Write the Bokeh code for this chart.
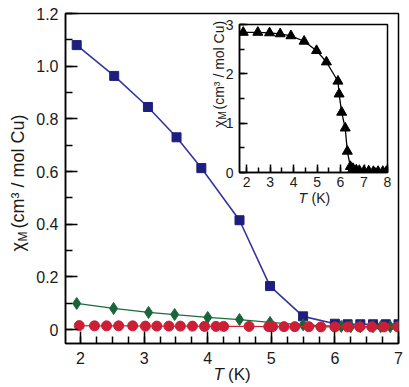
import numpy as np
from bokeh.plotting import figure
from bokeh.models import FixedTicker, CustomJSTickFormatter, Label, Range1d
from bokeh.layouts import column
from bokeh.embed import file_html
from bokeh.resources import INLINE

# ---------------- data ----------------
blue_T = [1.94, 2.53, 3.06, 3.51, 3.90, 4.50, 4.98, 5.50, 6.00, 6.20, 6.40, 6.60, 6.80, 7.00]
blue_chi = [1.080, 0.963, 0.845, 0.730, 0.613, 0.415, 0.165, 0.050, 0.022, 0.020, 0.020, 0.020, 0.020, 0.020]

green_T = [1.94, 2.52, 3.07, 3.48, 4.00, 4.50, 4.98, 5.50, 6.10, 6.25, 6.40, 6.60, 6.72, 6.87, 7.00]
green_chi = [0.099, 0.080, 0.065, 0.057, 0.046, 0.038, 0.027, 0.018, 0.012, 0.011, 0.011, 0.011, 0.011, 0.011, 0.011]

red_T = [1.98, 2.22, 2.41, 2.60, 2.82, 3.02, 3.20, 3.39, 3.57, 3.76, 3.95, 4.13, 4.25,
         4.65, 4.96, 5.02, 5.20, 5.37, 5.59, 5.78, 6.00, 6.20, 6.39, 6.58, 6.77, 6.99]
red_chi = [0.015, 0.014, 0.014, 0.014, 0.014, 0.013, 0.013, 0.013, 0.013, 0.013, 0.012, 0.012, 0.012,
           0.012, 0.011, 0.011, 0.011, 0.011, 0.011, 0.010, 0.010, 0.010, 0.010, 0.010, 0.010, 0.010]

inset_T = [1.86, 2.48, 2.98, 3.43, 3.89, 4.45, 4.98, 5.40, 5.89, 5.94, 6.05, 6.20, 6.29, 6.42,
           6.53, 6.67, 6.80, 7.00, 7.20, 7.40, 7.60, 7.80, 7.95]
inset_chi = [2.84, 2.84, 2.83, 2.81, 2.77, 2.66, 2.47, 2.24, 1.85, 1.59, 1.22, 0.90, 0.43, 0.12,
             0.08, 0.05, 0.04, 0.03, 0.03, 0.02, 0.02, 0.02, 0.02]

main_x_ticks = [2, 3, 4, 5, 6, 7]
main_y_ticks = [0, 0.2, 0.4, 0.6, 0.8, 1.0, 1.2]
inset_x_ticks = [2, 3, 4, 5, 6, 7, 8]
inset_y_ticks = [0, 1, 2, 3]

FONT = "Liberation Sans"
TXT = "#1a1a1a"
W, H = 405, 385

# ---------------- main plot ----------------
p = figure(width=W, height=H, output_backend="svg", toolbar_location=None,
           x_range=Range1d(1.764, 7.0), y_range=Range1d(-0.053, 1.2),
           min_border_left=65, min_border_right=W - 398, min_border_top=13, min_border_bottom=H - 343)
p.frame_align = False
p.grid.visible = False
p.outline_line_color = "black"
p.outline_line_width = 1.5
p.background_fill_color = "white"
p.border_fill_color = "white"

p.xaxis.ticker = FixedTicker(ticks=main_x_ticks, minor_ticks=list(np.arange(1.75, 7.01, 0.25)))
p.yaxis.ticker = FixedTicker(ticks=main_y_ticks, minor_ticks=list(np.arange(-0.1, 1.21, 0.1)))
p.yaxis.formatter = CustomJSTickFormatter(code="return Math.abs(tick) < 1e-9 ? '0' : tick.toFixed(1);")
p.xaxis.formatter = CustomJSTickFormatter(code="return tick.toFixed(0);")
for ax in (p.xaxis[0], p.yaxis[0]):
    ax.axis_line_color = "black"
    ax.axis_line_width = 1.5
    ax.major_tick_in = 12
    ax.major_tick_out = 0
    ax.minor_tick_in = 7
    ax.minor_tick_out = 0
    ax.major_tick_line_color = "black"
    ax.minor_tick_line_color = "black"
    ax.major_tick_line_width = 1.5
    ax.minor_tick_line_width = 1.5
    ax.major_label_text_font = FONT
    ax.major_label_text_font_size = "16px"
    ax.major_label_text_color = TXT
p.xaxis.major_label_standoff = 8
p.yaxis.major_label_standoff = 7

p.line(blue_T, blue_chi, line_color="#35359e", line_width=1.6)
p.scatter(blue_T, blue_chi, marker="square", size=9, fill_color="#1e1e7e", line_color="#1e1e7e")
p.line(green_T, green_chi, line_color="#1b6e3a", line_width=1.3)
p.scatter(green_T, green_chi, marker="diamond", size=12, fill_color="#17663a", line_color="#17663a")
p.line(red_T, red_chi, line_color="#cc2233", line_width=1.2)
p.scatter(red_T, red_chi, marker="circle", size=10, fill_color="#cc1f35", line_color="#cc1f35")

# ---------------- inset (full-size overlay, frame placed by borders) ----------------
IL, IR, IT, IB = 239, 387, 24, 172
q = figure(width=W, height=H, output_backend="svg", toolbar_location=None,
           x_range=Range1d(1.70, 8.0), y_range=Range1d(0.0, 3.0),
           min_border_left=IL, min_border_right=W - IR, min_border_top=IT, min_border_bottom=H - IB)
q.frame_align = False
q.grid.visible = False
q.outline_line_color = "black"
q.outline_line_width = 1.5
q.background_fill_color = "white"
q.border_fill_color = None
q.xaxis.ticker = FixedTicker(ticks=inset_x_ticks, minor_ticks=list(np.arange(1.5, 8.01, 0.5)))
q.yaxis.ticker = FixedTicker(ticks=inset_y_ticks, minor_ticks=list(np.arange(0, 3.01, 0.5)))
q.xaxis.formatter = CustomJSTickFormatter(code="return tick.toFixed(0);")
q.yaxis.formatter = CustomJSTickFormatter(code="return tick.toFixed(0);")
for ax in (q.xaxis[0], q.yaxis[0]):
    ax.axis_line_color = "black"
    ax.axis_line_width = 1.5
    ax.major_tick_in = 8
    ax.major_tick_out = 0
    ax.minor_tick_in = 5
    ax.minor_tick_out = 0
    ax.major_tick_line_color = "black"
    ax.minor_tick_line_color = "black"
    ax.major_tick_line_width = 1.5
    ax.minor_tick_line_width = 1.5
    ax.major_label_text_font = FONT
    ax.major_label_text_font_size = "14px"
    ax.major_label_text_color = TXT
q.xaxis.major_label_standoff = 4
q.yaxis.major_label_standoff = 6

q.line(inset_T, inset_chi, line_color="black", line_width=1.3)
q.scatter(inset_T, inset_chi, marker="triangle", size=10, fill_color="black", line_color="black")

# ---------------- text layer (pixel coordinates, whole canvas) ----------------
r = figure(width=W, height=H, output_backend="svg", toolbar_location=None,
           x_range=Range1d(0, W), y_range=Range1d(H, 0),
           x_axis_location=None, y_axis_location=None,
           min_border_left=0, min_border_right=0, min_border_top=0, min_border_bottom=0)
r.frame_align = False
r.grid.visible = False
r.outline_line_color = None
r.background_fill_color = None
r.border_fill_color = None


def lab(x, y, text, size, italic=False, rot=False):
    r.add_layout(Label(x=x, y=y, text=text, text_font=FONT, text_font_size=f"{size}px",
                       text_font_style="italic" if italic else "normal",
                       angle=np.pi / 2 if rot else 0, text_align="left",
                       text_baseline="middle", text_color=TXT))


# main axis titles
lab(213, 374, "T", 17, italic=True)
lab(227.5, 374, "(K)", 17)
lab(17, 251, "χ", 18, rot=True)
lab(22, 241, "M", 12, rot=True)
lab(17, 228, "(cm³ / mol Cu)", 18, rot=True)
# inset axis titles
lab(298, 197, "T", 14, italic=True)
lab(311, 197, "(K)", 14)
lab(218, 127, "χ", 14, rot=True)
lab(222, 119, "M", 10, rot=True)
lab(218, 109, "(cm³ / mol Cu)", 14, rot=True)

q.margin = (-H, 0, 0, 0)
r.margin = (-H, 0, 0, 0)
layout = column(p, q, r)

open("out.html", "w").write(file_html(layout, INLINE))
